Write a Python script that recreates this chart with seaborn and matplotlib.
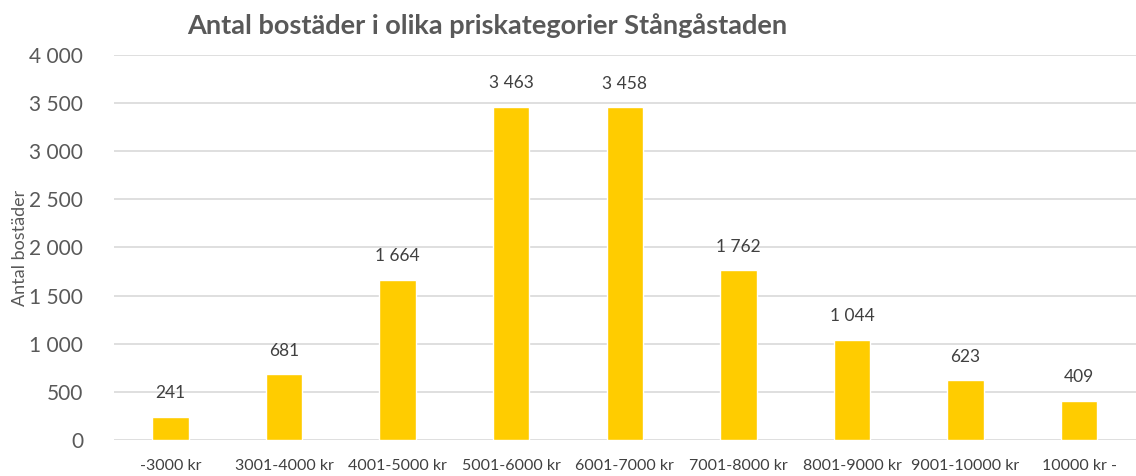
import numpy as np
import pandas as pd
import matplotlib
matplotlib.use("Agg")
import matplotlib.pyplot as plt
import seaborn as sns

# data
kategorier = ["-3000 kr", "3001-4000 kr", "4001-5000 kr", "5001-6000 kr", "6001-7000 kr",
              "7001-8000 kr", "8001-9000 kr", "9001-10000 kr", "10000 kr -"]
antal = [241, 681, 1664, 3463, 3458, 1762, 1044, 623, 409]
yticks = [0, 500, 1000, 1500, 2000, 2500, 3000, 3500, 4000]

df = pd.DataFrame({"kategori": kategorier, "antal": antal})

sns.set_style("white")
plt.rcParams["font.family"] = ["Lato", "DejaVu Sans"]

def sv(v):
    return f"{v:,}".replace(",", " ")

fig = plt.figure(figsize=(11.36, 4.76), dpi=100)
ax = fig.add_axes([0.1, 0.0756, 0.9, 0.809])

sns.barplot(data=df, x="kategori", y="antal", color="#FFCC00", width=0.32,
            saturation=1, ax=ax, zorder=3)

for i, v in enumerate(antal):
    ax.text(i, v + 160, sv(v), ha="center", va="bottom", fontsize=12.5, color="#404040")

ax.set_ylim(0, 4000)
ax.set_xlim(-0.5, len(kategorier) - 0.5)
ax.set_yticks(yticks)
ax.set_yticklabels([sv(t) for t in yticks], fontsize=15, color="#595959")
ax.tick_params(axis="x", labelsize=11.5, labelcolor="#404040", length=0, pad=14)
ax.tick_params(axis="y", length=0, pad=22)
ax.yaxis.grid(True, color="#D9D9D9", linewidth=1.2, zorder=0)
for s in ax.spines.values():
    s.set_visible(False)

ax.set_xlabel("")
ax.set_ylabel("Antal bostäder", fontsize=13, color="#595959", labelpad=1)

fig.text(0.4287, 0.947, "Antal bostäder i olika priskategorier Stångåstaden",
         ha="center", va="center", fontsize=19.5, fontweight="bold", color="#595959")

fig.savefig("out.png", dpi=100)
